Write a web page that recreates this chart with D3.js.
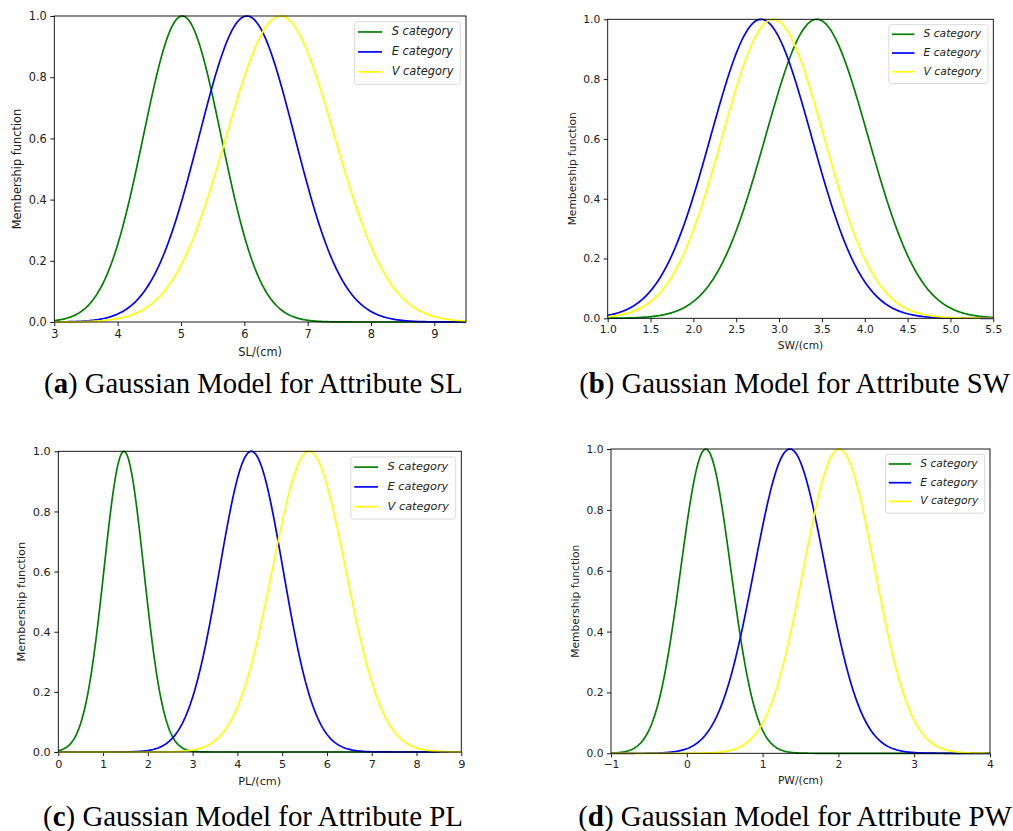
<!DOCTYPE html>
<html>
<head>
<meta charset="utf-8">
<script src="https://cdn.jsdelivr.net/npm/d3@7"></script>
<style>
  body { margin: 0; background: #fff; }
  svg { display: block; }
</style>
</head>
<body>
<script>
// four panels, one per iris attribute
const attributes = ["SL", "SW", "PL", "PW"];
const panelLetters = ["a", "b", "c", "d"];
const categories = ["S category", "E category", "V category"];
const colors = ["#008000", "#0000ff", "#ffff00"];

const xDomains = [[3, 9.5], [1, 5.5], [0, 9], [-1, 4]];
const xTicks = [
  [3, 4, 5, 6, 7, 8, 9],
  [1, 1.5, 2, 2.5, 3, 3.5, 4, 4.5, 5, 5.5],
  [0, 1, 2, 3, 4, 5, 6, 7, 8, 9],
  [-1, 0, 1, 2, 3, 4]
];
const xTickFormats = ["d", ".1f", "d", "d"];
const yTicks = [0, 0.2, 0.4, 0.6, 0.8, 1.0];

// centre and width of every gaussian (one per attribute)
const sMean  = [5.02, 3.44, 1.465, 0.25];
const sSigma = [0.615, 0.60, 0.445, 0.33];
const eMean  = [6.04, 2.79, 4.31, 1.36];
const eSigma = [0.755, 0.59, 0.71, 0.47];
const vMean  = [6.57, 2.93, 5.60, 2.01];
const vSigma = [0.855, 0.595, 0.82, 0.47];

const means = [sMean, eMean, vMean];
const sigmas = [sSigma, eSigma, vSigma];

// where each axes box and caption sits on the page
const layout = [
  {l: 54.3, t: 16,    r: 466,   b: 322,   f: 11.4, cx: 253.5, cy: 393, cw: 419},
  {l: 607.7, t: 19.3, r: 993.3, b: 318.3, f: 10.7, cx: 794.5, cy: 393, cw: 431},
  {l: 58.3, t: 451.3, r: 461.3, b: 752,   f: 11.3, cx: 253,   cy: 826, cw: 420},
  {l: 611, t: 449,    r: 990,   b: 753.3, f: 10.7, cx: 795,   cy: 826, cw: 434}
];

const svg = d3.select("body").append("svg")
  .attr("width", 1013)
  .attr("height", 831);

function membership(x, mu, s) {
  return Math.exp(-(x - mu) * (x - mu) / (2 * s * s));
}

attributes.forEach(function(attr, p) {
  const L = layout[p];
  const f = L.f;
  const g = svg.append("g");

  const x = d3.scaleLinear().domain(xDomains[p]).range([L.l, L.r]);
  const y = d3.scaleLinear().domain([0, 1]).range([L.b, L.t]);

  // x axis
  const xa = g.append("g")
    .attr("transform", "translate(0," + L.b + ")")
    .call(d3.axisBottom(x)
      .tickValues(xTicks[p])
      .tickFormat(d3.format(xTickFormats[p]))
      .tickSize(4).tickPadding(3.5));

  const ya = g.append("g")
    .attr("transform", "translate(" + L.l + ",0)")
    .call(d3.axisLeft(y)
      .tickValues(yTicks)
      .tickFormat(d3.format(".1f"))
      .tickSize(4).tickPadding(3.5));

  [xa, ya].forEach(function(a) {
    a.select(".domain").remove();
    a.selectAll(".tick line").attr("stroke", "#000").attr("stroke-width", 0.9);
    a.selectAll(".tick text")
      .attr("fill", "#222")
      .style("font-family", "DejaVu Sans")
      .style("font-size", f + "px");
  });

  // curves
  const n = 400;
  const x0 = xDomains[p][0], x1 = xDomains[p][1];
  const grid = d3.range(n + 1).map(i => x0 + (x1 - x0) * i / n);
  const line = d3.line()
    .x(d => x(d[0]))
    .y(d => y(d[1]));

  categories.forEach(function(c, k) {
    const pts = grid.map(v => [v, membership(v, means[k][p], sigmas[k][p])]);
    g.append("path")
      .datum(pts)
      .attr("fill", "none")
      .attr("stroke", colors[k])
      .attr("stroke-width", 1.7)
      .attr("d", line);
  });

  // frame
  g.append("rect")
    .attr("x", L.l).attr("y", L.t)
    .attr("width", L.r - L.l).attr("height", L.b - L.t)
    .attr("fill", "none")
    .attr("stroke", "#000")
    .attr("stroke-width", 0.9);

  // axis labels
  g.append("text")
    .attr("x", (L.l + L.r) / 2)
    .attr("y", L.b + 30 * f / 11.4)
    .attr("text-anchor", "middle")
    .attr("dominant-baseline", "middle")
    .attr("fill", "#222")
    .style("font-family", "DejaVu Sans")
    .style("font-size", f + "px")
    .text(attr + "/(cm)");

  g.append("text")
    .attr("transform", "translate(" + (L.l - 37 * f / 11.4) + "," + ((L.t + L.b) / 2) + ") rotate(-90)")
    .attr("text-anchor", "middle")
    .attr("dominant-baseline", "middle")
    .attr("fill", "#222")
    .style("font-family", "DejaVu Sans")
    .style("font-size", f + "px")
    .text("Membership function");

  // legend
  const lg = g.append("g");
  const box = lg.append("rect");
  const texts = [];
  categories.forEach(function(c, k) {
    texts.push(lg.append("text")
      .attr("dominant-baseline", "middle")
      .attr("fill", "#222")
      .style("font-family", "DejaVu Sans")
      .style("font-style", "italic")
      .style("font-size", f + "px")
      .text(c));
  });
  const tw = d3.max(texts, t => t.node().getComputedTextLength());
  const bw = 3.25 * f + tw + 0.6 * f;
  const bh = 5.5 * f;
  const bx = L.r - 0.5 * f - bw;
  const by = L.t + 0.5 * f;
  box.attr("x", bx).attr("y", by)
    .attr("width", bw).attr("height", bh)
    .attr("rx", 2.5)
    .attr("fill", "#fff").attr("fill-opacity", 0.8)
    .attr("stroke", "#d6d6d6").attr("stroke-width", 0.9);
  categories.forEach(function(c, k) {
    const ry = by + 0.9 * f + k * 1.75 * f;
    lg.append("line")
      .attr("x1", bx + 0.3 * f).attr("x2", bx + 2.4 * f)
      .attr("y1", ry).attr("y2", ry)
      .attr("stroke", colors[k]).attr("stroke-width", 1.7);
    texts[k].attr("x", bx + 3.25 * f).attr("y", ry);
  });

  // caption
  const cap = svg.append("text")
    .attr("x", L.cx).attr("y", L.cy)
    .attr("text-anchor", "middle")
    .attr("fill", "#000")
    .style("font-family", "Liberation Serif")
    .style("font-size", "24px");
  cap.append("tspan").text("(");
  cap.append("tspan").attr("font-weight", "bold").text(panelLetters[p]);
  cap.append("tspan").text(") Gaussian Model for Attribute " + attr);
  const w = cap.node().getComputedTextLength();
  cap.style("font-size", (24 * L.cw / w) + "px");
});
</script>
</body>
</html>
